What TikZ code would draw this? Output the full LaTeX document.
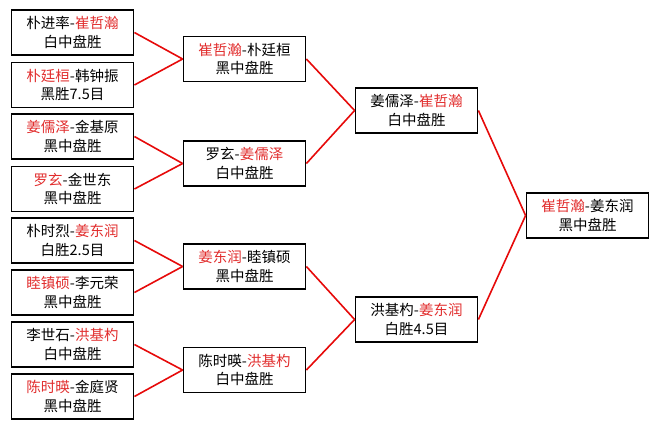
\documentclass[tikz,border=0pt]{standalone}
\usepackage{fontspec}
\setmainfont{Noto Sans CJK SC}
\definecolor{winred}{RGB}{225,45,45}
\definecolor{linkred}{RGB}{230,10,10}
\newcommand\winner[1]{\textcolor{winred}{#1}}

\begin{document}
\begin{tikzpicture}[x=1pt,y=-1pt,
    match/.style={draw=black,line width=1.8pt,minimum width=122pt,minimum height=45pt,
      inner sep=0pt,align=center,font=\fontsize{14.5}{18.5}\selectfont},
    link/.style={draw=linkred,line width=1.6pt}]
        \useasboundingbox (0,0) rectangle (659,429);
        % Round 1
        \node[match] (r1a) at (72.5,32.5) {朴进率-\winner{崔哲瀚}\\白中盘胜};
        \node[match] (r1b) at (72.5,85) {\winner{朴廷桓}-韩钟振\\黑胜7.5目};
        \node[match] (r1c) at (72.5,136.5) {\winner{姜儒泽}-金基原\\黑中盘胜};
        \node[match] (r1d) at (72.5,189) {\winner{罗玄}-金世东\\黑中盘胜};
        \node[match] (r1e) at (72.5,240.5) {朴时烈-\winner{姜东润}\\白胜2.5目};
        \node[match] (r1f) at (72.5,292.5) {\winner{睦镇硕}-李元荣\\黑中盘胜};
        \node[match] (r1g) at (72.5,344.5) {李世石-\winner{洪基杓}\\白中盘胜};
        \node[match] (r1h) at (72.5,396.5) {\winner{陈时暎}-金庭贤\\黑中盘胜};
        % Round 2
        \node[match] (r2a) at (244.5,59) {\winner{崔哲瀚}-朴廷桓\\黑中盘胜};
        \node[match] (r2b) at (244.5,163.5) {罗玄-\winner{姜儒泽}\\白中盘胜};
        \node[match] (r2c) at (244.5,266.5) {\winner{姜东润}-睦镇硕\\黑中盘胜};
        \node[match] (r2d) at (244.5,370) {陈时暎-\winner{洪基杓}\\白中盘胜};
        % Round 3
        \node[match] (r3a) at (416.5,110.5) {姜儒泽-\winner{崔哲瀚}\\白中盘胜};
        \node[match] (r3b) at (416.5,319.5) {洪基杓-\winner{姜东润}\\白胜4.5目};
        % Final
        \node[match] (r4) at (587.5,215.5) {\winner{崔哲瀚}-姜东润\\黑中盘胜};
        % Links
        \foreach \a/\b in {r1a/r2a,r1b/r2a,r1c/r2b,r1d/r2b,r1e/r2c,r1f/r2c,r1g/r2d,r1h/r2d,
                           r2a/r3a,r2b/r3a,r2c/r3b,r2d/r3b,r3a/r4,r3b/r4} {
          \draw[link] (\a.east) -- (\b.west);
        }
    \end{tikzpicture}
\end{document}
